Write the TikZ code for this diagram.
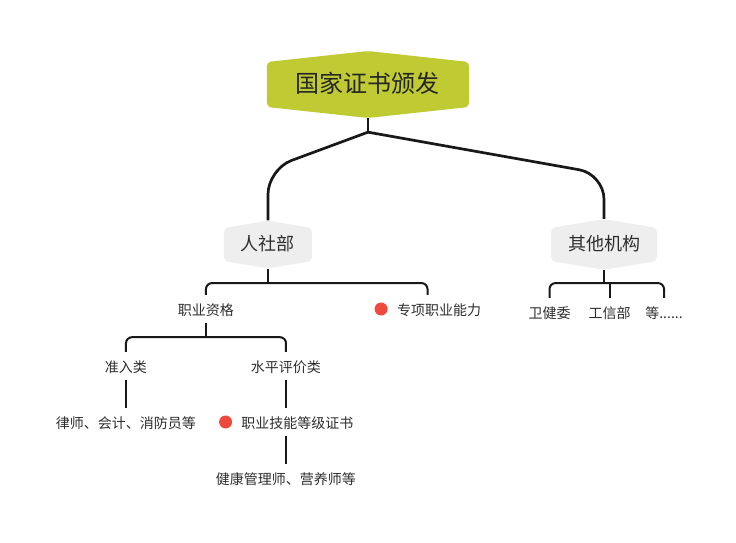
\documentclass[tikz,border=0pt]{standalone}
\usepackage{fontspec}
\setmainfont{Noto Sans CJK SC}
\usetikzlibrary{positioning,shapes.symbols,calc}

\definecolor{rootgreen}{RGB}{192,202,51}
\definecolor{topicgray}{RGB}{238,238,238}
\definecolor{markred}{RGB}{239,72,60}
\definecolor{linedark}{RGB}{24,24,24}
\definecolor{textdark}{RGB}{45,45,45}

\begin{document}
\begin{tikzpicture}%
  [x=1pt, y=1pt,
   node distance=60pt,
   on grid,
   every node/.style={text=textdark},
   rootnode/.style={signal, signal to=north and south, signal pointer angle=167.6,
                    fill=rootgreen, rounded corners=4pt, inner xsep=29pt, inner ysep=10.5pt,
                    text height=20pt, text depth=4pt,
                    font=\fontsize{24}{24}\selectfont, text=black!85},
   topic/.style={signal, signal to=north and south, signal pointer angle=161,
                 fill=topicgray, rounded corners=4pt, inner xsep=17pt, inner ysep=7.5pt,
                 text height=15pt, text depth=3pt,
                 font=\fontsize{18}{18}\selectfont},
   item/.style={inner xsep=0pt, inner ysep=0pt, minimum height=28pt,
                text height=13pt, text depth=1pt,
                font=\fontsize{14}{14}\selectfont},
   marked/.style={label={[markdot, xshift=-9pt]left:{}}},
   markdot/.style={circle, fill=markred, minimum size=13pt, inner sep=0pt},
   trunk/.style={draw=linedark, line width=2.7pt, rounded corners=25pt},
   branch/.style={draw=linedark, line width=2pt, rounded corners=6pt}
  ]
\useasboundingbox (-368,84.5) rectangle (368,-458.5);

\node[rootnode] (root)                                        {国家证书颁发};
\node[topic]    (rsb)  [below left=160pt and 100pt of root]   {人社部};
\node[topic]    (qt)   [below right=160pt and 236pt of root]  {其他机构};

\node[item]         (zyzg) [below left=64.5pt and 62pt of rsb]    {职业资格};
\node[item,marked]  (zxnl) [below right=64.5pt and 171pt of rsb]  {专项职业能力};
\node[item]         (zrl)  [below left=57pt and 80pt of zyzg]     {准入类};
\node[item]         (spl)  [below right=57pt and 80pt of zyzg]    {水平评价类};
\node[item]         (lsh)  [below=56pt of zrl]                    {律师、会计、消防员等};
\node[item,marked]  (jnzs) [below right=56pt and 11.5pt of spl]   {职业技能等级证书};
\node[item]         (jkgl) [below left=56pt and 11.5pt of jnzs]   {健康管理师、营养师等};

\node[item] (wjw)  [below left=67.5pt and 54.5pt of qt]   {卫健委};
\node[item] (gxb)  [below right=67.5pt and 5.5pt of qt]   {工信部};
\node[item] (deng) [below right=67.5pt and 60pt of qt]    {等......};

% trunk from the root
\draw[trunk] (root.south) -- ++(0,-14) coordinate (rj);
\draw[trunk] (rj) -- ($(rj -| rsb.north)+(0,-37)$) -- (rsb.north);
\draw[trunk] (rj) -- ($(rj -| qt.north)+(0,-42)$)  -- (qt.north);

% brackets
\draw[branch] (rsb.south) -- ++(0,-14.5) coordinate (rsbj);
\draw[branch] (zyzg.north) |- (rsbj) -| ([xshift=-11.5pt]zxnl.north);
\draw[branch] (zyzg.south) -- ++(0,-14) coordinate (zyzgj);
\draw[branch] (zrl.north) |- (zyzgj) -| (spl.north);
\draw[branch] (qt.south) -- ++(0,-13) coordinate (qtj);
\draw[branch] (wjw.north) |- (qtj) -| (deng.north);
\draw[branch] (qtj -| gxb.north) -- (gxb.north);

% single links
\draw[branch] (zrl) -- (lsh);
\draw[branch] (spl) -- ([xshift=-11.5pt]jnzs.north);
\draw[branch] ([xshift=-11.5pt]jnzs.south) -- (jkgl);
\end{tikzpicture}
\end{document}
